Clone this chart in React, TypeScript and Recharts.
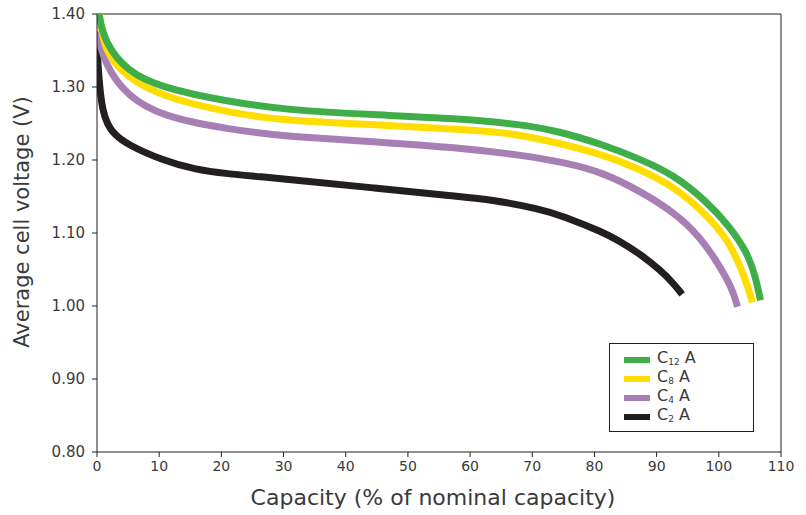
import React from 'react';
import { LineChart, Line, XAxis, YAxis, ReferenceLine } from 'recharts';

// capacity (% of nominal) vs average cell voltage, one array per discharge rate
const c12Data = [
  { x: 0.3, v: 1.4 }, { x: 1.2, v: 1.361 }, { x: 4.9, v: 1.321 }, { x: 10.4, v: 1.299 },
  { x: 21, v: 1.28 }, { x: 31, v: 1.268 }, { x: 44.4, v: 1.262 }, { x: 57.9, v: 1.257 },
  { x: 68, v: 1.249 }, { x: 74, v: 1.24 }, { x: 81.4, v: 1.221 }, { x: 87.4, v: 1.201 },
  { x: 92.7, v: 1.18 }, { x: 98.1, v: 1.143 }, { x: 101.8, v: 1.108 }, { x: 104.6, v: 1.073 },
  { x: 105.9, v: 1.04 }, { x: 106.7, v: 1.008 },
];
const c8Data = [
  { x: 0.4, v: 1.4 }, { x: 1.2, v: 1.347 }, { x: 4.9, v: 1.313 }, { x: 10.4, v: 1.287 },
  { x: 21, v: 1.265 }, { x: 31, v: 1.253 }, { x: 44.4, v: 1.249 }, { x: 57.9, v: 1.242 },
  { x: 65.4, v: 1.238 }, { x: 71.3, v: 1.229 }, { x: 81.4, v: 1.208 }, { x: 87.4, v: 1.187 },
  { x: 92.7, v: 1.164 }, { x: 98.1, v: 1.125 }, { x: 101.4, v: 1.091 }, { x: 103.5, v: 1.054 },
  { x: 104.8, v: 1.023 }, { x: 105.4, v: 1.005 },
];
const c4Data = [
  { x: 0, v: 1.376 }, { x: 1.2, v: 1.331 }, { x: 4.9, v: 1.287 }, { x: 10.4, v: 1.26 },
  { x: 21, v: 1.242 }, { x: 31, v: 1.232 }, { x: 34.2, v: 1.231 }, { x: 44.4, v: 1.225 },
  { x: 57.9, v: 1.217 }, { x: 68, v: 1.207 }, { x: 75, v: 1.197 }, { x: 81.4, v: 1.183 },
  { x: 87.4, v: 1.157 }, { x: 92.7, v: 1.129 }, { x: 97, v: 1.095 }, { x: 100.2, v: 1.054 },
  { x: 102.2, v: 1.023 }, { x: 103, v: 0.999 },
];
const c2Data = [
  { x: 0, v: 1.354 }, { x: 0.4, v: 1.3 }, { x: 0.9, v: 1.268 }, { x: 1.7, v: 1.248 },
  { x: 2.8, v: 1.235 }, { x: 4.9, v: 1.221 }, { x: 10.4, v: 1.2 }, { x: 15.7, v: 1.187 },
  { x: 21, v: 1.181 }, { x: 26.5, v: 1.177 }, { x: 31, v: 1.173 }, { x: 44.4, v: 1.162 },
  { x: 57.9, v: 1.15 }, { x: 63.2, v: 1.146 }, { x: 71.3, v: 1.133 }, { x: 75, v: 1.123 },
  { x: 81.4, v: 1.101 }, { x: 84, v: 1.089 }, { x: 87.4, v: 1.071 }, { x: 90.6, v: 1.049 },
  { x: 92.7, v: 1.031 }, { x: 94.1, v: 1.016 },
];

const xTicks = [0, 10, 20, 30, 40, 50, 60, 70, 80, 90, 100, 110];
const yTicks = [0.8, 0.9, 1.0, 1.1, 1.2, 1.3, 1.4];

const series = [
  { key: 'c12', sub: '12', color: '#3fae49', data: c12Data },
  { key: 'c8', sub: '8', color: '#ffdd00', data: c8Data },
  { key: 'c4', sub: '4', color: '#a87fb5', data: c4Data },
  { key: 'c2', sub: '2', color: '#231f20', data: c2Data },
];

const FONT = '"DejaVu Sans", sans-serif';
const INK = '#231f20';
const TEXT = '#3a3a3a';

// legend drawn as a plain overlay so it doesn't eat into the plot area
const LegendBox = () => (
  <div
    style={{
      position: 'absolute',
      left: 609,
      top: 343,
      width: 145,
      height: 89,
      border: `1px solid ${INK}`,
      background: '#fff',
      paddingTop: 6,
      boxSizing: 'border-box',
      fontFamily: FONT,
      fontSize: 16,
      lineHeight: '19px',
      color: TEXT,
    }}
  >
    {series.map((s) => (
      <div key={s.key} style={{ display: 'flex', alignItems: 'center', height: 19, paddingLeft: 14 }}>
        <span style={{ display: 'inline-block', width: 26, height: 6, background: s.color, marginRight: 7 }} />
        <span style={{ whiteSpace: 'nowrap' }}>
          C<span style={{ fontSize: 9, verticalAlign: '-2px' }}>{s.sub}</span> A
        </span>
      </div>
    ))}
  </div>
);

const YLabel = (props: any) => {
  const { viewBox } = props;
  const cx = 22;
  const cy = viewBox.y + viewBox.height / 2 - 11;
  return (
    <text
      x={cx}
      y={cy}
      transform={`rotate(-90, ${cx}, ${cy})`}
      textAnchor="middle"
      dominantBaseline="central"
      fill={TEXT}
      fontFamily={FONT}
      fontSize={21}
    >
      Average cell voltage (V)
    </text>
  );
};

const XLabel = (props: any) => {
  const { viewBox } = props;
  const cx = viewBox.x + viewBox.width / 2 - 6;
  return (
    <text x={cx} y={505} textAnchor="middle" fill={TEXT} fontFamily={FONT} fontSize={22}>
      Capacity (% of nominal capacity)
    </text>
  );
};

export default function App() {
  return (
    <div style={{ position: 'absolute', left: 0, top: 0, width: 806, height: 515, background: '#fff' }}>
      <LineChart width={806} height={515} margin={{ top: 14, right: 25, bottom: 0, left: 0 }}>
        <XAxis
          type="number"
          dataKey="x"
          domain={[0, 110]}
          ticks={xTicks}
          interval={0}
          allowDataOverflow
          height={63}
          tickSize={5}
          tickMargin={4}
          stroke={INK}
          tick={{ fill: TEXT, fontFamily: FONT, fontSize: 14 }}
          label={<XLabel />}
        />
        <YAxis
          type="number"
          dataKey="v"
          domain={[0.8, 1.4]}
          ticks={yTicks}
          interval={0}
          allowDataOverflow
          width={97}
          tickSize={5}
          tickMargin={7}
          stroke={INK}
          tickFormatter={(v: number) => v.toFixed(2)}
          tick={{ fill: TEXT, fontFamily: FONT, fontSize: 15 }}
          label={<YLabel />}
        />
        <ReferenceLine y={1.4} stroke={INK} strokeWidth={1} />
        <ReferenceLine x={110} stroke={INK} strokeWidth={1} />
        {series
          .slice()
          .reverse()
          .map((s) => (
            <Line
              key={s.key}
              data={s.data}
              dataKey="v"
              type="basis"
              stroke={s.color}
              strokeWidth={7}
              dot={false}
              activeDot={false}
              isAnimationActive={false}
            />
          ))}
      </LineChart>
      <LegendBox />
    </div>
  );
}
